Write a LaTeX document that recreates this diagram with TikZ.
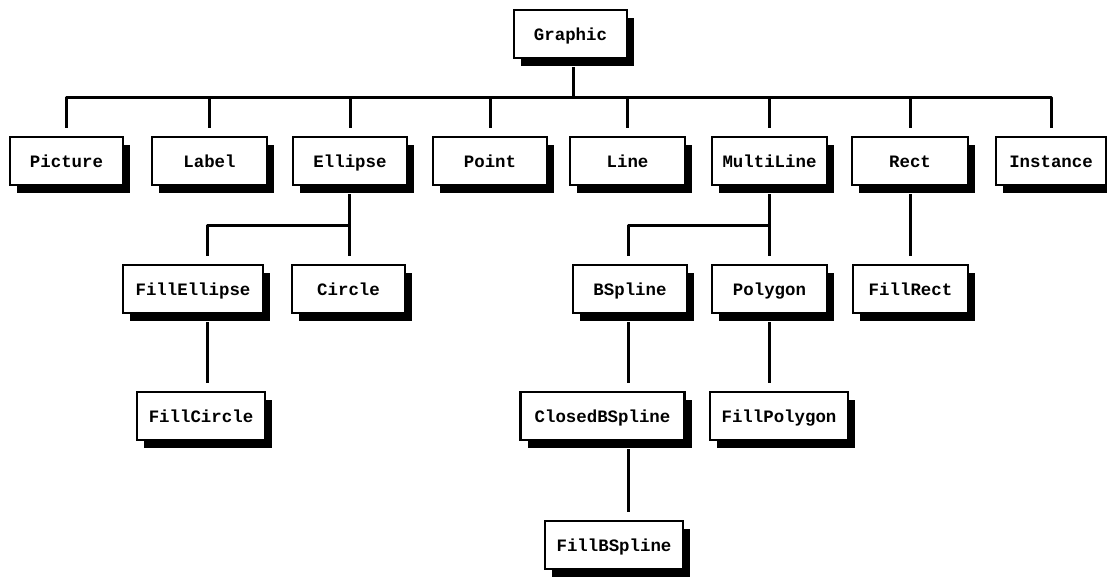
\documentclass[tikz,border=0pt]{standalone}
\usepackage{fontspec}
\newfontfamily\boxfont{Liberation Mono}
\usetikzlibrary{shadows}
\begin{document}
\begin{tikzpicture}[x=1pt,y=-1pt,
  cls/.style={draw=black, line width=2.6pt, fill=white, minimum height=48pt,
    inner sep=0pt, text height=14pt, text depth=1pt,
    font=\boxfont\bfseries\fontsize{17.4}{20}\selectfont,
    drop shadow={shadow xshift=7pt, shadow yshift=-8pt, fill=black, opacity=1}},
  conn/.style={line width=3pt, line cap=butt, line join=round}]
\useasboundingbox (0,0) rectangle (1107,576);

% root
\node[cls, minimum width=113pt] (Graphic) at (570.5,34) {Graphic};

% first level
\node[cls, minimum width=113pt] (Picture)   at (66.5,161)  {Picture};
\node[cls, minimum width=115pt] (Label)     at (209.5,161) {Label};
\node[cls, minimum width=114pt] (Ellipse)   at (350,161)   {Ellipse};
\node[cls, minimum width=114pt] (Point)     at (490,161)   {Point};
\node[cls, minimum width=115pt] (Line)      at (627.5,161) {Line};
\node[cls, minimum width=115pt] (MultiLine) at (769.5,161) {MultiLine};
\node[cls, minimum width=116pt] (Rect)      at (910,161)   {Rect};
\node[cls, minimum width=110pt] (Instance)  at (1051,161)  {Instance};

% second level
\node[cls, minimum width=140pt] (FillEllipse) at (193,289)   {FillEllipse};
\node[cls, minimum width=113pt] (Circle)      at (348.5,289) {Circle};
\node[cls, minimum width=114pt] (BSpline)     at (630,289)   {BSpline};
\node[cls, minimum width=115pt] (Polygon)     at (769.5,289) {Polygon};
\node[cls, minimum width=115pt] (FillRect)    at (910.5,289) {FillRect};

% third level
\node[cls, minimum width=128pt] (FillCircle)    at (201,416)   {FillCircle};
\node[cls, minimum width=164pt] (ClosedBSpline) at (602.5,416) {ClosedBSpline};
\node[cls, minimum width=138pt] (FillPolygon)   at (779,416)   {FillPolygon};

% fourth level
\node[cls, minimum width=138pt] (FillBSpline) at (614,545) {FillBSpline};

% bus junctions
\coordinate (busG) at (573,97);
\coordinate (busE) at (349,225);
\coordinate (busM) at (769,225);
\coordinate (jFE) at (207,0);
\coordinate (jCB) at (628,0);

% Graphic and its subclasses
\draw[conn] ([yshift=-8pt]Graphic.south -| busG) -- (busG);
\draw[conn] ([yshift=8pt]Picture.north) -- (Picture.north |- busG)
  -- (Instance.north |- busG) -- ([yshift=8pt]Instance.north);
\foreach \n in {Label,Ellipse,Point,Line,MultiLine,Rect}
  \draw[conn] (\n.north |- busG) -- ([yshift=8pt]\n.north);

% Ellipse branch
\draw[conn] ([yshift=-8pt]Ellipse.south -| busE) -- ([yshift=8pt]Circle.north -| busE);
\draw[conn] ([yshift=8pt]FillEllipse.north -| jFE) -- (jFE |- busE) -- (busE);
\draw[conn] ([yshift=-8pt]FillEllipse.south -| jFE) -- ([yshift=8pt]FillCircle.north -| jFE);

% MultiLine branch
\draw[conn] ([yshift=-8pt]MultiLine.south -| busM) -- ([yshift=8pt]Polygon.north -| busM);
\draw[conn] ([yshift=8pt]BSpline.north -| jCB) -- (jCB |- busM) -- (busM);
\draw[conn] ([yshift=-8pt]BSpline.south -| jCB) -- ([yshift=8pt]ClosedBSpline.north -| jCB);
\draw[conn] ([yshift=-8pt]ClosedBSpline.south -| jCB) -- ([yshift=8pt]FillBSpline.north -| jCB);
\draw[conn] ([yshift=-8pt]Polygon.south -| busM) -- ([yshift=8pt]FillPolygon.north -| busM);

% Rect branch
\draw[conn] ([yshift=-8pt]Rect.south) -- ([yshift=8pt]FillRect.north -| Rect.south);
\end{tikzpicture}
\end{document}
